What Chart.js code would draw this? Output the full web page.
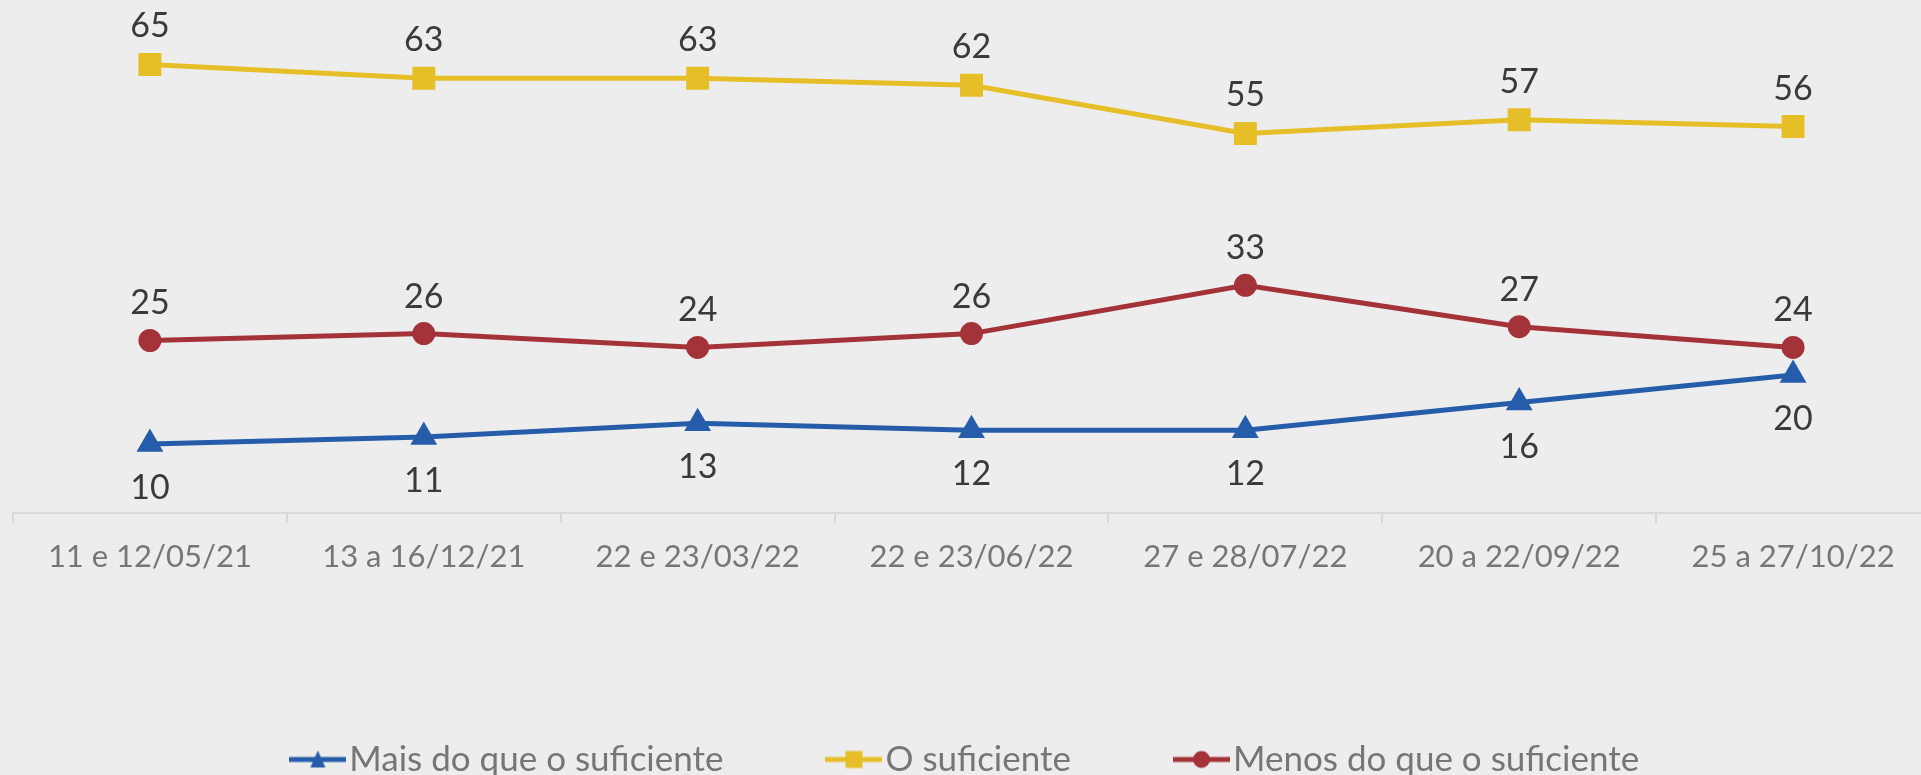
<!DOCTYPE html>
<html>
<head>
<meta charset="utf-8">
<script src="https://cdn.jsdelivr.net/npm/chart.js@4.4.1/dist/chart.umd.min.js"></script>
<style>
  html, body { margin: 0; padding: 0; background: #ededed; overflow: hidden; }
  canvas { display: block; }
</style>
</head>
<body>
<!-- o gráfico original é cortado à direita: canvas um pouco mais largo que a janela -->
<canvas id="grafico" width="1935" height="775"></canvas>
<script>
// dados
const categorias = ['11 e 12/05/21', '13 a 16/12/21', '22 e 23/03/22', '22 e 23/06/22', '27 e 28/07/22', '20 a 22/09/22', '25 a 27/10/22'];
const maisQueSuficiente = [10, 11, 13, 12, 12, 16, 20];
const suficiente = [65, 63, 63, 62, 55, 57, 56];
const menosQueSuficiente = [25, 26, 24, 26, 33, 27, 24];
const nomesSeries = ['Mais do que o suficiente', 'O suficiente', 'Menos do que o suficiente'];

const AZUL = '#255daa';
const AMARELO = '#e6bf28';
const VERMELHO = '#a33338';

// marcador da legenda: linha + símbolo
function marcador(cor, tipo) {
    const c = document.createElement('canvas');
    c.width = 57; c.height = 24;
    const g = c.getContext('2d');
    g.strokeStyle = cor;
    g.fillStyle = cor;
    g.lineWidth = 5;
    g.beginPath(); g.moveTo(0, 12); g.lineTo(57, 12); g.stroke();
    g.beginPath();
    if (tipo == 'triangle') {
        g.moveTo(28.5, 3); g.lineTo(36, 20); g.lineTo(21, 20); g.closePath();
    } else if (tipo == 'rect') {
        g.rect(20, 3.5, 17, 17);
    } else {
        g.arc(28.5, 12, 8.5, 0, Math.PI * 2);
    }
    g.fill();
    return c;
}

// rótulos de valor sobre/sob os pontos
const rotulos = {
    id: 'rotulos',
    afterDatasetsDraw(chart) {
        const ctx = chart.ctx;
        chart.data.datasets.forEach((ds, i) => {
            const meta = chart.getDatasetMeta(i);
            meta.data.forEach((pt, j) => {
                ctx.save();
                ctx.font = '34px Lato';
                ctx.fillStyle = '#3a3a3a';
                ctx.textAlign = 'center';
                ctx.textBaseline = 'middle';
                ctx.fillText(ds.data[j], pt.x, pt.y + ds.deslocRotulo);
                ctx.restore();
            });
        });
    }
};

const ctx = document.getElementById('grafico').getContext('2d');
new Chart(ctx, {
    type: 'line',
    data: {
        labels: categorias,
        datasets: [
            {
                label: nomesSeries[0],
                data: maisQueSuficiente,
                borderColor: AZUL,
                backgroundColor: AZUL,
                borderWidth: 5,
                pointStyle: 'triangle',
                pointRadius: 10.5,
                pointHoverRadius: 10.5,
                deslocRotulo: 44,
                marcadorLegenda: marcador(AZUL, 'triangle')
            },
            {
                label: nomesSeries[1],
                data: suficiente,
                borderColor: AMARELO,
                backgroundColor: AMARELO,
                borderWidth: 5,
                pointStyle: 'rect',
                pointRadius: 12.7,
                pointHoverRadius: 12.7,
                deslocRotulo: -38,
                marcadorLegenda: marcador(AMARELO, 'rect')
            },
            {
                label: nomesSeries[2],
                data: menosQueSuficiente,
                borderColor: VERMELHO,
                backgroundColor: VERMELHO,
                borderWidth: 5,
                pointStyle: 'circle',
                pointRadius: 9,
                pointHoverRadius: 9,
                deslocRotulo: -37,
                marcadorLegenda: marcador(VERMELHO, 'circle')
            }
        ]
    },
    options: {
        responsive: false,
        devicePixelRatio: 1,
        animation: false,
        layout: {
            autoPadding: false,
            padding: { top: 30, left: 13, right: 5, bottom: -12 }
        },
        scales: {
            x: {
                offset: true,
                grid: {
                    offset: true,
                    drawOnChartArea: false,
                    color: '#d9d9d9',
                    lineWidth: 2,
                    tickLength: 10
                },
                border: { color: '#d9d9d9', width: 2 },
                ticks: {
                    color: '#767676',
                    font: { family: 'Lato', size: 31 },
                    padding: 15,
                    maxRotation: 0
                },
                afterFit(scale) { scale.height = 112.5; }
            },
            y: {
                display: false,
                min: 0,
                max: 70
            }
        },
        plugins: {
            legend: {
                position: 'bottom',
                labels: {
                    usePointStyle: true,
                    pointStyleWidth: 28,
                    boxHeight: 35,
                    padding: 116.5,
                    color: '#767676',
                    font: { family: 'Lato', size: 35 },
                    generateLabels(chart) {
                        return chart.data.datasets.map((ds, i) => ({
                            text: ds.label,
                            pointStyle: ds.marcadorLegenda,
                            fontColor: '#767676',
                            datasetIndex: i,
                            hidden: false,
                            lineWidth: 0
                        }));
                    }
                }
            },
            tooltip: { enabled: false }
        }
    },
    plugins: [rotulos]
});
</script>
</body>
</html>
